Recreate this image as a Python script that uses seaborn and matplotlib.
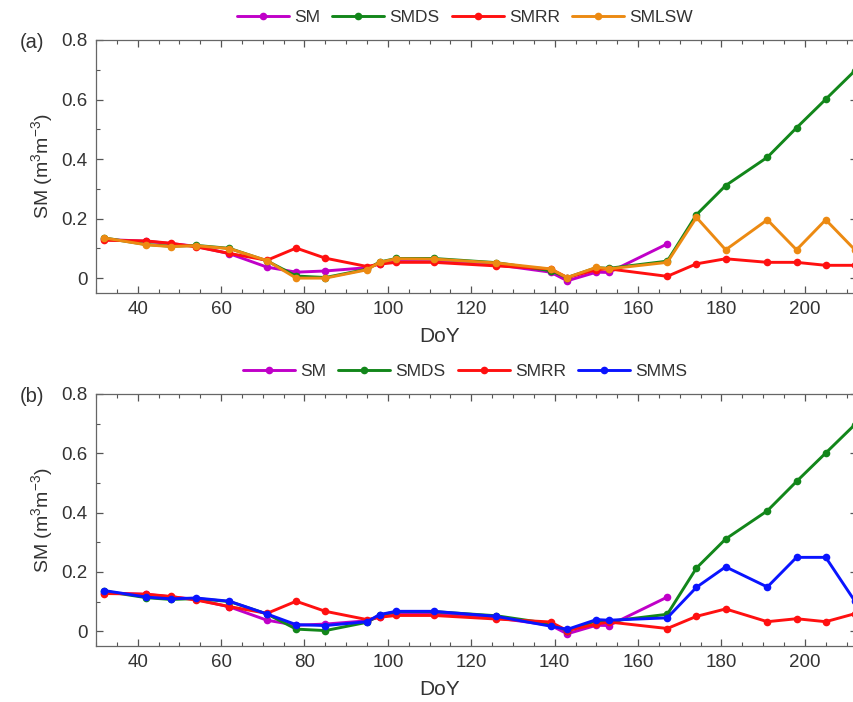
import matplotlib
matplotlib.use("Agg")
import matplotlib.pyplot as plt
import seaborn as sns
from matplotlib.ticker import MultipleLocator

sns.set_style("ticks")
plt.rcParams["font.family"] = ["Liberation Sans", "DejaVu Sans"]
plt.rcParams["mathtext.fontset"] = "custom"
plt.rcParams["mathtext.rm"] = "Liberation Sans"
plt.rcParams["mathtext.it"] = "Liberation Sans"
plt.rcParams["mathtext.default"] = "regular"
plt.rcParams["text.color"] = "#333333"
plt.rcParams["axes.labelcolor"] = "#333333"
plt.rcParams["xtick.color"] = "#555555"
plt.rcParams["ytick.color"] = "#555555"
plt.rcParams["xtick.labelcolor"] = "#333333"
plt.rcParams["ytick.labelcolor"] = "#333333"

# Day of year of the observations
doy = [32, 42, 48, 54, 62, 71, 78, 85, 95, 98, 102, 111,
       126, 139, 143, 150, 153, 167, 174, 181, 191, 198, 205, 212]
doy_sm = doy[:18]

# Soil moisture series (m3 m-3)
sm = [0.130, 0.124, 0.116, 0.107, 0.082, 0.037, 0.020, 0.024, 0.035, 0.048,
      0.058, 0.058, 0.045, 0.020, -0.009, 0.020, 0.019, 0.115]
smds = [0.135, 0.113, 0.107, 0.110, 0.100, 0.058, 0.007, 0.002, 0.030, 0.054,
        0.066, 0.066, 0.052, 0.025, 0.002, 0.035, 0.033, 0.057,
        0.213, 0.311, 0.406, 0.505, 0.601, 0.697]
smrr_a = [0.127, 0.125, 0.117, 0.105, 0.083, 0.060, 0.101, 0.067, 0.039, 0.047,
          0.053, 0.053, 0.041, 0.031, 0.002, 0.028, 0.031, 0.006,
          0.048, 0.065, 0.053, 0.053, 0.043, 0.043]
smrr_b = [0.127, 0.125, 0.117, 0.105, 0.083, 0.060, 0.101, 0.067, 0.039, 0.047,
          0.053, 0.053, 0.041, 0.031, 0.002, 0.024, 0.031, 0.009,
          0.050, 0.075, 0.032, 0.042, 0.032, 0.059]
smlsw = [0.135, 0.112, 0.106, 0.109, 0.099, 0.059, 0.000, 0.000, 0.028, 0.053,
         0.065, 0.064, 0.051, 0.031, 0.002, 0.036, 0.031, 0.053,
         0.204, 0.095, 0.196, 0.095, 0.196, 0.095]
smms = [0.137, 0.115, 0.109, 0.112, 0.101, 0.058, 0.022, 0.019, 0.032, 0.056,
        0.067, 0.067, 0.050, 0.017, 0.006, 0.039, 0.037, 0.045,
        0.148, 0.217, 0.149, 0.249, 0.249, 0.101]

colors = {"SM": "#c000c8", "SMDS": "#12861a", "SMRR": "#ff1010",
          "SMLSW": "#ec8a12", "SMMS": "#0a14ff"}

panels = [
    ("(a)", [("SM", doy_sm, sm), ("SMDS", doy, smds),
             ("SMRR", doy, smrr_a), ("SMLSW", doy, smlsw)]),
    ("(b)", [("SM", doy_sm, sm), ("SMDS", doy, smds),
             ("SMRR", doy, smrr_b), ("SMMS", doy, smms)]),
]

fig = plt.figure(figsize=(8.54, 7.02), dpi=100)
W, H = 854, 702
boxes = [(96, 40, 293), (96, 394, 646)]

for (tag, series), (left, top, bottom) in zip(panels, boxes):
    ax = fig.add_axes([left / W, 1 - bottom / H, (857 - left) / W, (bottom - top) / H])
    for name, x, y in series:
        sns.lineplot(x=x, y=y, ax=ax, color=colors[name], marker="o",
                     markersize=5.5, markeredgewidth=0, linewidth=2.1,
                     label=name, sort=False)
    ax.set_xlim(30, 212.5)
    ax.set_ylim(-0.05, 0.8)
    ax.xaxis.set_major_locator(MultipleLocator(20))
    ax.xaxis.set_minor_locator(MultipleLocator(5))
    ax.yaxis.set_minor_locator(MultipleLocator(0.1))
    ax.set_yticks([0, 0.2, 0.4, 0.6, 0.8])
    ax.set_yticklabels(["0", "0.2", "0.4", "0.6", "0.8"])
    ax.tick_params(which="both", direction="in", top=True, right=True,
                   labelsize=13.5, pad=6)
    ax.tick_params(which="major", length=5, width=0.9)
    ax.tick_params(which="minor", length=3, width=0.8)
    for sp in ax.spines.values():
        sp.set_color("#666666")
        sp.set_linewidth(0.9)
    ax.set_xlabel("DoY", fontsize=15)
    ax.set_ylabel("SM (m$^3$m$^{-3}$)", fontsize=14)
    ax.xaxis.set_label_coords(0.452, -0.135)
    ax.yaxis.set_label_coords(-0.054, 0.5)
    ax.legend(loc="center", bbox_to_anchor=(0.485, 1.09), ncol=4, frameon=False,
              fontsize=12.5, handlelength=3.0, columnspacing=0.7,
              handletextpad=0.3, borderaxespad=0)
    fig.text(20 / W, 1 - (top + 2) / H, tag, fontsize=14.5, va="center", ha="left")

fig.savefig("out.png", dpi=100)
